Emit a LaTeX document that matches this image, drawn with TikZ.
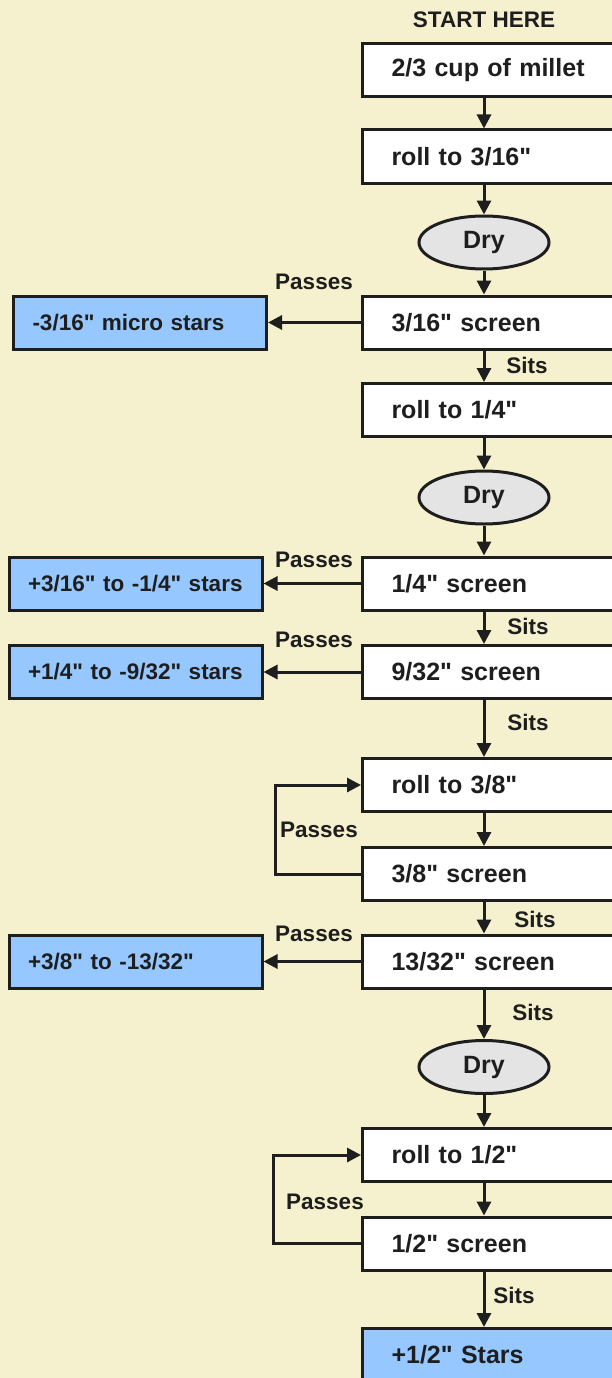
\documentclass[tikz,border=0pt]{standalone}
\usepackage{fontspec}
\setmainfont{Liberation Sans}[Ligatures=TeXOff]
\usetikzlibrary{shapes.geometric, arrows.meta, positioning}
\definecolor{cream}{RGB}{245,240,205}
\definecolor{outblue}{RGB}{150,200,255}
\definecolor{drygray}{RGB}{228,228,228}
\definecolor{ink}{RGB}{30,30,30}

\begin{document}
\begin{tikzpicture}[x=1pt, y=1pt, text=ink,
    font=\bfseries\fontsize{25}{30}\selectfont,
    box/.style={draw=ink, line width=3pt, fill=white, anchor=west, minimum height=53pt,
        text width=250pt, inner xsep=29pt, align=left},
    outbox/.style={draw=ink, line width=3pt, fill=outblue, minimum height=53pt,
        text width=215pt, inner xsep=19pt, align=left, font=\bfseries\fontsize{22.5}{27}\selectfont},
    dry/.style={draw=ink, line width=3pt, fill=drygray, ellipse, minimum width=130pt,
        minimum height=53pt, inner sep=0pt},
    lbl/.style={font=\bfseries\fontsize{22.5}{27}\selectfont, inner sep=0pt},
    arrow/.style={-{Triangle[length=14pt,width=14pt]}, line width=3pt, draw=ink}]
    \useasboundingbox (0,0) rectangle (612,-1378);
    \fill[cream] (0,0) rectangle (612,-1378);
    \coordinate (trunk) at (484,0);

    % main column
    \node[lbl] (start) at (484,-20) {START HERE};
    \node[box] (b1) at (361,-70.5) {2/3 cup of millet};
    \node[box] (b2) at (361,-156.5) {roll to 3/16"};
    \node[dry] (d1) at (484,-242.5) {Dry};
    \node[box] (s316) at (361,-322.5) {3/16" screen};
    \node[box] (r14) at (361,-410) {roll to 1/4"};
    \node[dry] (d2) at (484,-497.5) {Dry};
    \node[box] (s14) at (361,-583.5) {1/4" screen};
    \node[box] (s932) at (361,-672) {9/32" screen};
    \node[box] (r38) at (361,-785) {roll to 3/8"};
    \node[box] (s38) at (361,-874) {3/8" screen};
    \node[box] (s1332) at (361,-961.5) {13/32" screen};
    \node[dry] (d3) at (484,-1067) {Dry};
    \node[box] (r12) at (361,-1155) {roll to 1/2"};
    \node[box] (s12) at (361,-1243.5) {1/2" screen};
    \node[box, fill=outblue] (fin) at (361,-1355) {+1/2" Stars};

    % stars that pass a screen
    \node[outbox] (out1) at (140,-322.5) {-3/16" micro stars};
    \node[outbox] (out2) at (135.5,-583.5) {+3/16" to -1/4" stars};
    \node[outbox] (out3) at (135.5,-672) {+1/4" to -9/32" stars};
    \node[outbox] (out4) at (135.5,-961.5) {+3/8" to -13/32"};

    \draw[arrow] (b1.south -| trunk) -- (b2.north -| trunk);
    \draw[arrow] (b2.south -| trunk) -- (d1.north);
    \draw[arrow] (d1.south) -- (s316.north -| trunk);
    \draw[arrow] (s316.south -| trunk) -- (r14.north -| trunk);
    \draw[arrow] (r14.south -| trunk) -- (d2.north);
    \draw[arrow] (d2.south) -- (s14.north -| trunk);
    \draw[arrow] (s14.south -| trunk) -- (s932.north -| trunk);
    \draw[arrow] (s932.south -| trunk) -- (r38.north -| trunk);
    \draw[arrow] (r38.south -| trunk) -- (s38.north -| trunk);
    \draw[arrow] (s38.south -| trunk) -- (s1332.north -| trunk);
    \draw[arrow] (s1332.south -| trunk) -- (d3.north);
    \draw[arrow] (d3.south) -- (r12.north -| trunk);
    \draw[arrow] (r12.south -| trunk) -- (s12.north -| trunk);
    \draw[arrow] (s12.south -| trunk) -- (fin.north -| trunk);

    \draw[arrow] (s316) -- (out1);
    \draw[arrow] (s14) -- (out2);
    \draw[arrow] (s932) -- (out3);
    \draw[arrow] (s1332) -- (out4);
    \draw[arrow] (s38.west) -- ++(-86,0) |- (r38.west);
    \draw[arrow] (s12.west) -- ++(-88,0) |- (r12.west);

    \node[lbl, anchor=east] at (353,-282) {Passes};
    \node[lbl, anchor=east] at (353,-560) {Passes};
    \node[lbl, anchor=east] at (353,-640) {Passes};
    \node[lbl, anchor=east] at (353,-934) {Passes};
    \node[lbl, anchor=west] at (280,-830) {Passes};
    \node[lbl, anchor=west] at (286,-1202) {Passes};
    \node[lbl] at (527,-365) {Sits};
    \node[lbl] at (528,-626) {Sits};
    \node[lbl] at (528,-722) {Sits};
    \node[lbl] at (535,-919) {Sits};
    \node[lbl] at (533,-1012) {Sits};
    \node[lbl] at (514,-1295) {Sits};
\end{tikzpicture}
\end{document}
